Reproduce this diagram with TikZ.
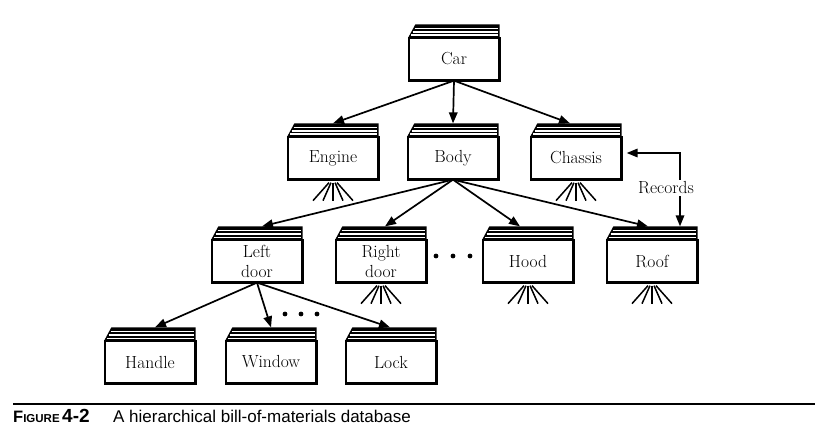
\documentclass[tikz,border=0pt]{standalone}
\usepackage{fontspec}
\usetikzlibrary{calc,arrows.meta}
\newfontfamily\capfont{Liberation Sans}

\tikzset{
  part/.style={draw, line width=1.3pt, fill=white, minimum width=90pt, minimum height=42pt,
    inner sep=0pt, align=center, font=\fontsize{17.5}{20}\selectfont},
  arr/.style={-{Triangle[length=11pt,width=8.5pt]}, line width=1.7pt},
  arrboth/.style={{Triangle[length=11pt,width=8.5pt]}-{Triangle[length=11pt,width=8.5pt]}, line width=1.7pt},
  leg/.style={line width=1.5pt},
}
% stack of pages on top of a part, plus its top coordinate
\newcommand{\partstack}[1]{%
  \draw[line width=2.2pt] (#1.north east) -- (#1.south east) -- (#1.south west);
  \fill (#1.north west) -- ++(7,-13) -- ($(#1.north east)+(0,-13)$) -- (#1.north east) -- cycle;
  \draw[white, line width=1.4pt] ($(#1.north west)+(6.2,-8.9)$) -- ($(#1.north east)+(-1.4,-8.9)$);
  \draw[white, line width=1.4pt] ($(#1.north west)+(4.3,-5.5)$) -- ($(#1.north east)+(-1.4,-5.5)$);
  \draw[white, line width=1.1pt] ($(#1.north west)+(2.4,-2.3)$) -- ($(#1.north east)+(-1.4,-2.3)$);
  \coordinate (#1t) at ($(#1.north)+(0,-13)$);
}
\newcommand{\partlegs}[1]{%
  \foreach \k in {-2,...,2}
    \draw[leg] ($(#1.south)+(2*\k,3)$) -- ($(#1.south)+(10*\k,21)$);
}

\begin{document}
\begin{tikzpicture}[x=1pt,y=-1pt]
  %%%%% START %%%%%
  \useasboundingbox (0,0) rectangle (838,441);

  % top
  \node[part] (Car) at (454,59) {Car};

  % second row
  \node[part] (Engine) at (333,158) {Engine};
  \node[part] (Body) at (453,158) {Body};
  \node[part] (Chassis) at (576,158) {Chassis};

  % third row
  \node[part] (Left) at (257,261) {Left\\door};
  \node[part] (Right) at (381,261) {Right\\door};
  \node[part] (Hood) at (528,261) {Hood};
  \node[part] (Roof) at (652,261) {Roof};

  % bottom row
  \node[part] (Handle) at (150,362) {Handle};
  \node[part] (Window) at (271,362) {Window};
  \node[part] (Lock) at (391,362) {Lock};

  \foreach \p in {Car,Engine,Body,Chassis,Left,Right,Hood,Roof,Handle,Window,Lock}
    \partstack{\p};
  \foreach \p in {Engine,Chassis,Right,Hood,Roof}
    \partlegs{\p};

  % links
  \draw[arr] (Car.south) -- (Enginet);
  \draw[arr] (Car.south) -- (Bodyt);
  \draw[arr] (Car.south) -- ($(Chassist)+(-6,0)$);

  \draw[arr] (Body.south) -- ($(Leftt)+(5,0)$);
  \draw[arr] (Body.south) -- ($(Rightt)+(4,0)$);
  \draw[arr] (Body.south) -- ($(Hoodt)+(-8,0)$);
  \draw[arr] (Body.south) -- ($(Rooft)+(-4,0)$);

  \draw[arr] (Left.south) -- ($(Handlet)+(5,0)$);
  \draw[arr] (Left.south) -- (Windowt);
  \draw[arr] (Left.south) -- ($(Lockt)+(-1,0)$);

  \draw[arrboth] ([shift={(5,-5)}]Chassis.east) -| ($(Rooft)+(28,0)$);
  \node[fill=white, inner sep=1.5pt, font=\fontsize{17.5}{20}\selectfont] (records) at (666,188) {Records};

  % dots
  \foreach \x in {436,453,470} \fill (\x,256) circle (2.4);
  \foreach \x in {285,301,317} \fill (\x,314) circle (2.4);

  % caption
  \draw[line width=2.2pt] (13,404) -- (815,404);
  \node[anchor=base west, inner sep=0pt, font=\capfont\bfseries\fontsize{16.5}{20}\selectfont] (fignum) at (13,422)
    {F\fontsize{11.5}{15}\selectfont IGURE};
  \node[anchor=base west, inner sep=0pt, font=\capfont\bfseries\fontsize{19}{20}\selectfont] (fignr) at (62,422) {4-2};
  \node[anchor=base west, inner sep=0pt, font=\capfont\fontsize{17}{20}\selectfont] (figtext) at (113,422)
    {A hierarchical bill-of-materials database};
  %%%%% END %%%%%
\end{tikzpicture}
\end{document}
